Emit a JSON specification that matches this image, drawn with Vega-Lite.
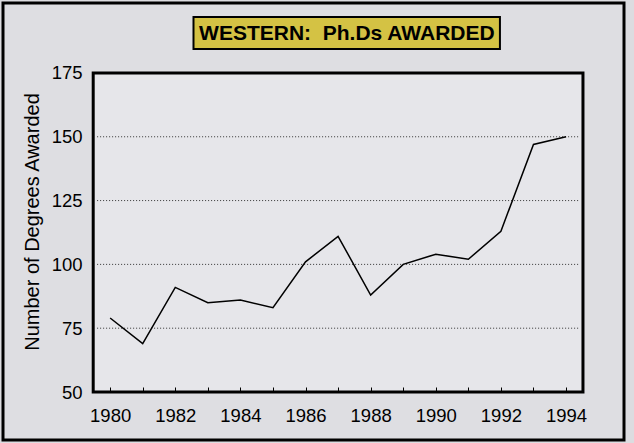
{
  "$schema": "https://vega.github.io/schema/vega-lite/v6.json",
  "width": 621,
  "height": 437,
  "autosize": {"type": "none"},
  "padding": {"left": 3, "top": 3, "right": 10, "bottom": 3},
  "background": "#dcdce0",
  "config": {
    "view": {"stroke": "black", "strokeWidth": 3, "fill": "#dedee2"},
    "font": "Liberation Sans"
  },
  "datasets": {
    "phd": [
      {"year": 1980, "degrees": 79},
      {"year": 1981, "degrees": 69},
      {"year": 1982, "degrees": 91},
      {"year": 1983, "degrees": 85},
      {"year": 1984, "degrees": 86},
      {"year": 1985, "degrees": 83},
      {"year": 1986, "degrees": 101},
      {"year": 1987, "degrees": 111},
      {"year": 1988, "degrees": 88},
      {"year": 1989, "degrees": 100},
      {"year": 1990, "degrees": 104},
      {"year": 1991, "degrees": 102},
      {"year": 1992, "degrees": 113},
      {"year": 1993, "degrees": 147},
      {"year": 1994, "degrees": 150}
    ],
    "grid": [{"v": 75}, {"v": 100}, {"v": 125}, {"v": 150}]
  },
  "layer": [
    {
      "data": {"values": [{}]},
      "mark": {"type": "rect", "fill": "#e6e6ea", "stroke": "black", "strokeWidth": 3},
      "encoding": {
        "x": {
          "datum": 1979.48,
          "type": "quantitative",
          "scale": {"domain": [1976.71, 1995.78], "nice": false, "zero": false},
          "axis": {
            "orient": "bottom",
            "offset": -48,
            "values": [1980, 1981, 1982, 1983, 1984, 1985, 1986, 1987, 1988, 1989, 1990, 1991, 1992, 1993, 1994],
            "format": "d",
            "labelExpr": "datum.value % 2 == 0 ? datum.label : ''",
            "domain": false,
            "grid": false,
            "ticks": true,
            "tickSize": -5,
            "tickColor": "black",
            "tickWidth": 1,
            "labelFontSize": 18.5,
            "labelColor": "black",
            "labelPadding": 19,
            "labelFlush": false,
            "labelOverlap": false,
            "title": null,
            "zindex": 1
          }
        },
        "x2": {"datum": 1994.52},
        "y": {
          "datum": 50,
          "type": "quantitative",
          "scale": {"domain": [31.2, 202.4], "nice": false, "zero": false},
          "axis": {
            "orient": "left",
            "offset": -90,
            "values": [50, 75, 100, 125, 150, 175],
            "domain": false,
            "grid": false,
            "ticks": false,
            "labelFontSize": 18.5,
            "labelColor": "black",
            "labelPadding": 11,
            "labelFlush": false,
            "title": "Number of Degrees Awarded",
            "titleFontSize": 20,
            "titleFontWeight": "normal",
            "titleColor": "black",
            "titlePadding": 9,
            "zindex": 1
          }
        },
        "y2": {"datum": 175}
      }
    },
    {
      "data": {"name": "grid"},
      "mark": {"type": "rule", "color": "#333333", "strokeWidth": 1, "strokeDash": [1, 2]},
      "encoding": {
        "y": {"field": "v", "type": "quantitative"},
        "x": {"datum": 1979.6, "type": "quantitative"},
        "x2": {"datum": 1994.4}
      }
    },
    {
      "data": {"name": "phd"},
      "mark": {"type": "line", "color": "black", "strokeWidth": 1.5},
      "encoding": {
        "x": {"field": "year", "type": "quantitative"},
        "y": {"field": "degrees", "type": "quantitative"}
      }
    },
    {
      "data": {"values": [{}]},
      "mark": {"type": "rect", "fill": "#d4c244", "stroke": "black", "strokeWidth": 2},
      "encoding": {
        "x": {"datum": 1982.56, "type": "quantitative"},
        "x2": {"datum": 1991.97},
        "y": {"datum": 184.4, "type": "quantitative"},
        "y2": {"datum": 196.9}
      }
    },
    {
      "data": {"values": [{"label": "WESTERN:\u00a0 Ph.Ds AWARDED"}]},
      "mark": {"type": "text", "fontSize": 21, "fontWeight": "bold", "align": "center", "baseline": "middle", "color": "black"},
      "encoding": {
        "x": {"datum": 1987.27, "type": "quantitative"},
        "y": {"datum": 190.4, "type": "quantitative"},
        "text": {"field": "label"}
      }
    }
  ]
}
